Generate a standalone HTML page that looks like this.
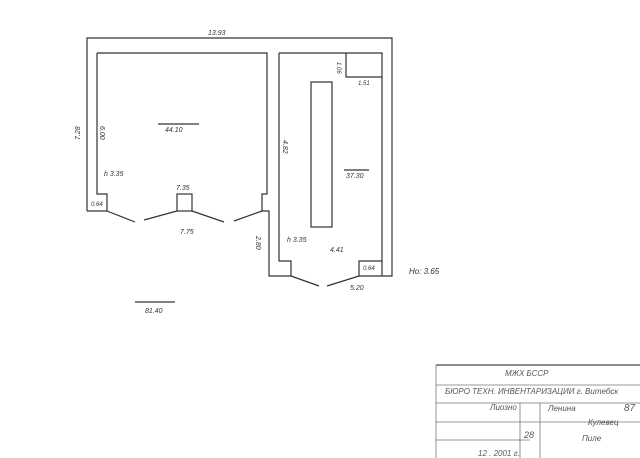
<!DOCTYPE html>
<html><head><style>
body{margin:0;background:#fff;}
svg{display:block;font-family:"Liberation Sans",sans-serif;font-style:italic;}
</style></head><body>
<svg width="640" height="458" viewBox="0 0 640 458" xmlns="http://www.w3.org/2000/svg">
<g fill="none" stroke="#333" stroke-width="1.2">
<polyline points="87,211 87,38 392,38 392,276 382,276"/>
<polyline points="107,211 87,211"/>
<polyline points="97,53 267,53 267,194 262,194 262,211 269,211 269,276 291,276"/>
<polyline points="97,53 97,194 107,194 107,211"/>
<line x1="107" y1="211" x2="135" y2="222"/>
<line x1="144" y1="220" x2="177" y2="211"/>
<rect x="177" y="194" width="15" height="17"/>
<line x1="192" y1="211" x2="224" y2="222"/>
<line x1="234" y1="221" x2="262" y2="211"/>
<polyline points="279,53 382,53 382,276 359,276 359,261 382,261"/>
<polyline points="279,53 279,261 291,261 291,276"/>
<line x1="291" y1="276" x2="319" y2="286"/>
<line x1="327" y1="286" x2="359" y2="276"/>
<polyline points="346,53 346,77 382,77"/>
<rect x="311" y="82" width="21" height="145"/>
<line x1="158" y1="124" x2="199" y2="124"/>
<line x1="344" y1="170" x2="369" y2="170"/>
<line x1="135" y1="302" x2="175" y2="302"/>
</g>
<g fill="#333" font-size="7">
<text x="208" y="35">13.93</text>
<text transform="translate(80,140) rotate(-90)">7.28</text>
<text transform="translate(100,126) rotate(90)">6.00</text>
<text x="165" y="132">44.10</text>
<text x="104" y="176">h 3.35</text>
<text x="91" y="206" font-size="6">0.64</text>
<text x="176" y="190">7.35</text>
<text x="180" y="234">7.75</text>
<text transform="translate(283,140) rotate(90)">4.82</text>
<text x="346" y="178">37.30</text>
<text transform="translate(337,62) rotate(90)" font-size="6">1.06</text>
<text x="358" y="85" font-size="6">1.51</text>
<text x="287" y="242">h 3.35</text>
<text x="330" y="252">4.41</text>
<text transform="translate(256,236) rotate(90)">2.80</text>
<text x="363" y="270" font-size="6">0.64</text>
<text x="350" y="290">5.20</text>
<text x="409" y="274" font-size="8">Hо: 3.65</text>
<text x="145" y="313">81.40</text>
</g>
<g stroke="#777" stroke-width="0.8" fill="none">
<line x1="436" y1="365" x2="640" y2="365" stroke="#444" stroke-width="1.2"/>
<line x1="436" y1="385" x2="640" y2="385"/>
<line x1="436" y1="403" x2="640" y2="403"/>
<line x1="436" y1="422" x2="640" y2="422"/>
<line x1="436" y1="440" x2="530" y2="440"/>
<line x1="436" y1="365" x2="436" y2="458"/>
<line x1="520" y1="403" x2="520" y2="458"/>
<line x1="540" y1="403" x2="540" y2="458"/>
</g>
<g fill="#555" font-size="8">
<text x="505" y="376">МЖХ БССР</text>
<text x="445" y="394">БЮРО ТЕХН. ИНВЕНТАРИЗАЦИИ г. Витебск</text>
<text x="490" y="410">Лиозно</text>
<text x="548" y="411">Ленина</text>
<text x="624" y="411" font-size="10">87</text>
<text x="588" y="425">Кулевец</text>
<text x="524" y="438" font-size="9">28</text>
<text x="582" y="441">Пиле</text>
<text x="478" y="456">12 . 2001 г.</text>
</g>
</svg>
</body></html>
